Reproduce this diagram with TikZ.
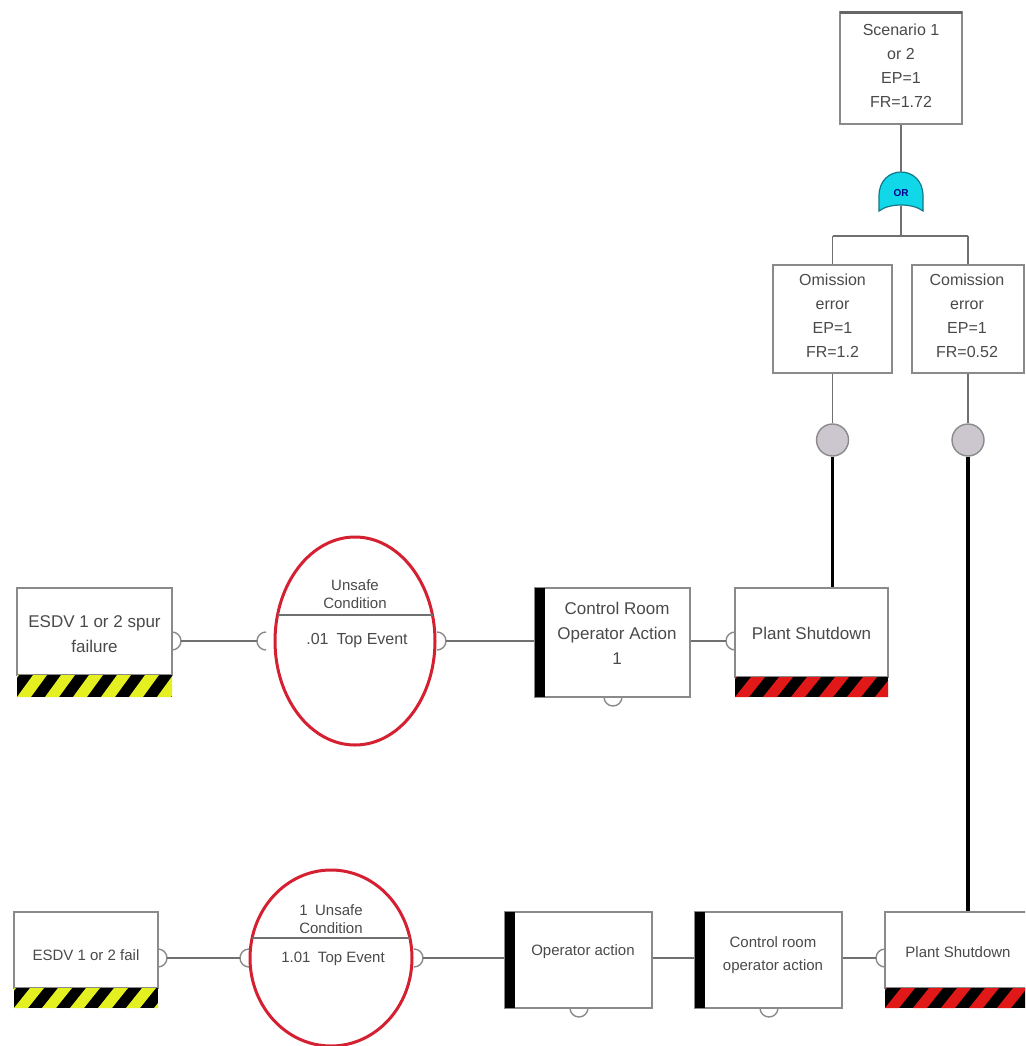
\documentclass[tikz,border=0pt]{standalone}
\usepackage{fontspec}
\setmainfont{Liberation Sans}
\usetikzlibrary{shapes.geometric}
\definecolor{txt}{HTML}{4A4A4A}
\definecolor{boxgray}{HTML}{8A8A8A}
\definecolor{linegray}{HTML}{707070}
\definecolor{hzyellow}{HTML}{E4F020}
\definecolor{hzred}{HTML}{E01818}
\definecolor{evred}{HTML}{D42030}
\definecolor{gatecyan}{HTML}{10D8E8}
\definecolor{gateedge}{HTML}{107888}
\definecolor{circgray}{HTML}{CCC6CE}
\newcommand\hazardband[5]{%
  \begin{scope}
    \clip (#1,#2) rectangle (#3,#4);
    \fill[black] (#1,#2) rectangle (#3,#4);
    \foreach \k in {-1,...,8}{
      \fill[#5] ({#1+\k*28},#4) -- ({#1+\k*28+14},#4) -- ({#1+\k*28+30},#2) -- ({#1+\k*28+16},#2) -- cycle;
    }
  \end{scope}}
\begin{document}
\begin{tikzpicture}[x=1pt,y=-1pt,
  box/.style n args={2}{draw=boxgray, line width=1.6pt, fill=white, rectangle, inner sep=0pt, minimum width=#1, minimum height=#2},
  btext/.style={text=txt, align=center, inner sep=0pt, font=\fontsize{17}{25}\selectfont},
  btextsmall/.style={text=txt, align=center, inner sep=0pt, font=\fontsize{15}{23}\selectfont},
  etext/.style={text=txt, align=center, inner sep=0pt, font=\fontsize{15}{18}\selectfont},
  conn/.style={draw=linegray, line width=1.5pt},
  port/.style={draw=boxgray, line width=1.4pt},
  thickline/.style={draw=black, line width=3.5pt},
  evt/.style={draw=evred, line width=3pt, ellipse, inner sep=0pt},
  junc/.style={circle, draw=boxgray, line width=1.4pt, fill=circgray, minimum size=32pt, inner sep=0pt}
]
\clip (0,0) rectangle (1025,1046);
\fill[white] (0,0) rectangle (1025,1046);

% ---------- top part ----------
\node[box={122pt}{112pt}] (scen) at (901,68) {};
\draw[draw=gray!80!black, line width=3pt] (840,13) -- (962,13);
\node[btext, font=\fontsize{16}{24}\selectfont] (scent) at (901,66) {Scenario 1\\or 2\\EP=1\\FR=1.72};

\coordinate (gtop) at (901,172);
\coordinate (gbot) at (901,206);
\fill[gatecyan, draw=gateedge, line width=1.2pt]
  (879,211) -- (879,196) .. controls (879,180) and (890,172) .. (901,172)
  .. controls (912,172) and (923,180) .. (923,196) -- (923,211)
  .. controls (913,203) and (889,203) .. (879,211) -- cycle;
\node[text=blue!55!black, font=\bfseries\fontsize{10}{10}\selectfont, inner sep=0pt] (gate) at (901,193) {OR};

\coordinate (jn) at (901,236);
\coordinate (jl) at (832.5,236);
\coordinate (jr) at (968,236);
\draw[conn] (scen.south) -- (gtop);
\draw[conn] (gbot) -- (jn);
\draw[conn] (jl) -- (jr);

\node[box={119pt}{108pt}] (om) at (832.5,319) {};
\node[btext, font=\fontsize{16}{24}\selectfont] (omt) at (832.5,316) {Omission\\error\\EP=1\\FR=1.2};
\node[box={112pt}{108pt}] (com) at (968,319) {};
\node[btext, font=\fontsize{16}{24}\selectfont] (comt) at (967,316) {Comission\\error\\EP=1\\FR=0.52};
\draw[conn] (jl) -- (om.north);
\draw[conn] (jr) -- (com.north);

\node[junc] (c1) at (832.5,440) {};
\node[junc] (c2) at (968,440) {};
\draw[conn] (om.south) -- (c1.north);
\draw[conn] (com.south) -- (c2.north);

% ---------- row 1 ----------
\node[box={155pt}{87pt}] (esdv1) at (94.5,631.5) {};
\hazardband{17}{675}{172}{697}{hzyellow}
\node[btext] (esdv1t) at (94.5,634) {ESDV 1 or 2 spur\\failure};
\coordinate (esdv1p) at (181,641);
\draw[port] (172,632) arc[start angle=-90, end angle=90, radius=9];

\node[evt, minimum width=160pt, minimum height=208pt] (ell1) at (355,641) {};
\draw[draw=linegray, line width=1.4pt] (277.5,615) -- (432.5,615);
\node[etext] (ell1a) at (355,594) {Unsafe\\Condition};
\node[etext, font=\fontsize{16}{18}\selectfont] (ell1b) at (357,641) {.01\enspace Top Event};
\coordinate (ell1l) at (257,641);
\coordinate (ell1r) at (446,641);
\draw[port] (266,632) arc[start angle=-90, end angle=-270, radius=9];
\draw[port] (437,632) arc[start angle=-90, end angle=90, radius=9];

\node[box={155pt}{109pt}] (cro1) at (612.5,642.5) {};
\fill[black] (535,588) rectangle (545,697);
\node[btext] (cro1t) at (617,633) {Control Room\\Operator Action\\1};
\draw[port] (604,697) arc[start angle=180, end angle=0, radius=9];

\node[box={153pt}{89pt}] (ps1) at (811.5,632.5) {};
\hazardband{735}{677}{888}{697}{hzred}
\node[btext] (ps1t) at (811.5,633) {Plant Shutdown};
\coordinate (ps1l) at (726,641);
\draw[port] (735,632) arc[start angle=-90, end angle=-270, radius=9];

\draw[conn] (esdv1p) -- (ell1l);
\draw[conn] (ell1r) -- (ell1r -| cro1.west);
\draw[conn] (ps1l -| cro1.east) -- (ps1l);
\draw[thickline] (c1.south) -- (c1.south |- ps1.north);

% ---------- row 2 ----------
\node[box={144pt}{76pt}] (esdv2) at (86,950) {};
\hazardband{14}{988}{158}{1008}{hzyellow}
\node[btextsmall] (esdv2t) at (86,955) {ESDV 1 or 2 fail};
\coordinate (esdv2p) at (167,958);
\draw[port] (158,949) arc[start angle=-90, end angle=90, radius=9];

\node[evt, minimum width=162pt, minimum height=176pt] (ell2) at (331,958) {};
\draw[draw=linegray, line width=1.4pt] (252,938) -- (410,938);
\node[etext] (ell2a) at (331,919) {1\enspace Unsafe\\Condition};
\node[etext] (ell2b) at (333,959) {1.01\enspace Top Event};
\coordinate (ell2l) at (240,958);
\coordinate (ell2r) at (423,958);
\draw[port] (249,949) arc[start angle=-90, end angle=-270, radius=9];
\draw[port] (414,949) arc[start angle=-90, end angle=90, radius=9];

\node[box={147pt}{96pt}] (op) at (578.5,960) {};
\fill[black] (505,912) rectangle (515,1008);
\node[btextsmall] (opt) at (583,952) {Operator action};
\draw[port] (570,1008) arc[start angle=180, end angle=0, radius=9];

\node[box={147pt}{96pt}] (crop) at (768.5,960) {};
\fill[black] (695,912) rectangle (705,1008);
\node[btextsmall] (cropt) at (773,955) {Control room\\operator action};
\draw[port] (760,1008) arc[start angle=180, end angle=0, radius=9];

\node[box={145pt}{76pt}] (ps2) at (957.5,950) {};
\hazardband{885}{988}{1030}{1008}{hzred}
\node[btextsmall] (ps2t) at (958,952) {Plant Shutdown};
\coordinate (ps2l) at (876,958);
\draw[port] (885,949) arc[start angle=-90, end angle=-270, radius=9];

\draw[conn] (esdv2p) -- (ell2l);
\draw[conn] (ell2r) -- (ell2r -| op.west);
\draw[conn] (ell2r -| op.east) -- (ell2r -| crop.west);
\draw[conn] (ps2l -| crop.east) -- (ps2l);
\draw[thickline] (c2.south) -- (c2.south |- ps2.north);
\end{tikzpicture}
\end{document}
